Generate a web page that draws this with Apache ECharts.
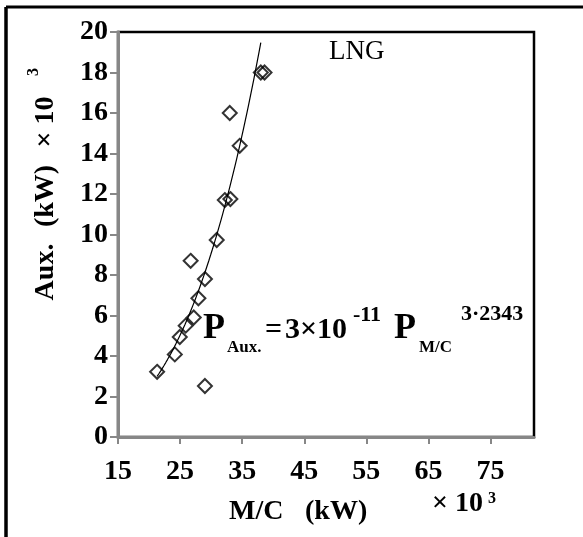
<!DOCTYPE html>
<html>
<head>
<meta charset="utf-8">
<script src="https://cdn.jsdelivr.net/npm/echarts@6/dist/echarts.min.js"></script>
<style>
  html, body { margin: 0; padding: 0; background: #fff; }
  #chart { width: 583px; height: 537px; }
</style>
</head>
<body>
<div id="chart"></div>
<script>
// Main-engine power (M/C) vs auxiliary power, both in 10^3 kW, LNG carriers
const mcPower  = [21.3, 24.15, 24.95, 25.9, 27.2, 27.95, 29.0, 26.7, 29.0, 30.9, 32.2, 33.1, 34.6, 33.0, 38.0, 38.6];
const auxPower = [3.22, 4.08, 4.94, 5.5, 5.9, 6.85, 7.8, 8.7, 2.52, 9.73, 11.7, 11.75, 14.38, 16.0, 18.0, 18.0];

// Axis tick labels
const xTicks = [15, 25, 35, 45, 55, 65, 75];
const yTicks = [0, 2, 4, 6, 8, 10, 12, 14, 16, 18, 20];

// Power-law fit P_aux = a * P_mc^b (powers in kW)
const fitCoef = 3e-11;
const fitExp = 3.2343;
const fitRange = [21.3, 38.0];

const fitLine = [];
const steps = 60;
for (let i = 0; i <= steps; i++) {
  const x = fitRange[0] + (fitRange[1] - fitRange[0]) * i / steps;
  const y = fitCoef * Math.pow(x * 1000, fitExp) / 1000;
  fitLine.push([x, y]);
}

const FONT = '"Liberation Serif", "Times New Roman", serif';
const AXIS_GRAY = '#878787';

function txt(text, x, y, size, opts) {
  opts = opts || {};
  return {
    type: 'text',
    x: x, y: y,
    rotation: opts.rotation || 0,
    z: 100,
    style: {
      text: text,
      font: (opts.bold === false ? '' : 'bold ') + size + 'px ' + FONT,
      fill: '#000',
      align: opts.align || 'left',
      verticalAlign: 'middle'
    }
  };
}

const chart = echarts.init(document.getElementById('chart'), null, { renderer: 'canvas' });

chart.setOption({
  animation: false,
  backgroundColor: '#fff',
  grid: {
    left: 118, top: 32, width: 416, height: 405,
    show: true, borderColor: '#000', borderWidth: 2.5, backgroundColor: 'transparent'
  },
  xAxis: {
    type: 'value',
    min: 15, max: 82, interval: 10,
    axisLine: { show: true, lineStyle: { color: AXIS_GRAY, width: 3 } },
    axisTick: { show: true, length: 7, lineStyle: { color: AXIS_GRAY, width: 2 }, customValues: xTicks },
    axisLabel: {
      customValues: xTicks,
      margin: 21,
      color: '#000', fontFamily: FONT, fontWeight: 'bold', fontSize: 28
    },
    splitLine: { show: false }
  },
  yAxis: {
    type: 'value',
    min: 0, max: 20, interval: 2,
    axisLine: { show: true, lineStyle: { color: AXIS_GRAY, width: 3 } },
    axisTick: { show: true, length: 8, lineStyle: { color: AXIS_GRAY, width: 2 }, customValues: yTicks },
    axisLabel: {
      customValues: yTicks,
      margin: 10,
      color: '#000', fontFamily: FONT, fontWeight: 'bold', fontSize: 28
    },
    splitLine: { show: false }
  },
  series: [
    {
      type: 'scatter',
      symbol: 'diamond',
      symbolSize: 14,
      itemStyle: { color: 'rgba(0,0,0,0)', borderColor: '#000', borderWidth: 2 },
      data: mcPower.map((x, i) => [x, auxPower[i]]),
      z: 3
    },
    {
      type: 'line',
      data: fitLine,
      showSymbol: false,
      smooth: false,
      lineStyle: { color: '#000', width: 1.2 },
      z: 4
    }
  ],
  graphic: [
    // outer frame
    { type: 'line', shape: { x1: 6, y1: 7, x2: 583, y2: 7 }, style: { stroke: '#000', lineWidth: 3 } },
    { type: 'line', shape: { x1: 6, y1: 7, x2: 6, y2: 537 }, style: { stroke: '#000', lineWidth: 3.5 } },

    // y-axis title (rotated)
    txt('Aux.', 46, 272, 28, { rotation: Math.PI / 2, align: 'center' }),
    txt('(kW)', 46, 196, 28, { rotation: Math.PI / 2, align: 'center' }),
    txt('× 10', 46, 122, 28, { rotation: Math.PI / 2, align: 'center' }),
    txt('3', 34, 72, 16, { rotation: Math.PI / 2, align: 'center' }),

    // x-axis title
    txt('M/C', 229, 512, 28),
    txt('(kW)', 305, 512, 28),
    txt('× 10', 432, 504, 28),
    txt('3', 488, 499, 16),

    // series label
    txt('LNG', 329, 52, 27, { bold: false }),

    // fit equation
    txt('P', 203, 329, 36),
    txt('Aux.', 227, 348, 17),
    txt('=', 265, 330, 30),
    txt('3×10', 285, 330, 30),
    txt('-11', 353, 315, 22),
    txt('P', 394, 329, 36),
    txt('M/C', 419, 348, 17),
    txt('3·2343', 461, 314, 22)
  ]
});
</script>
</body>
</html>
